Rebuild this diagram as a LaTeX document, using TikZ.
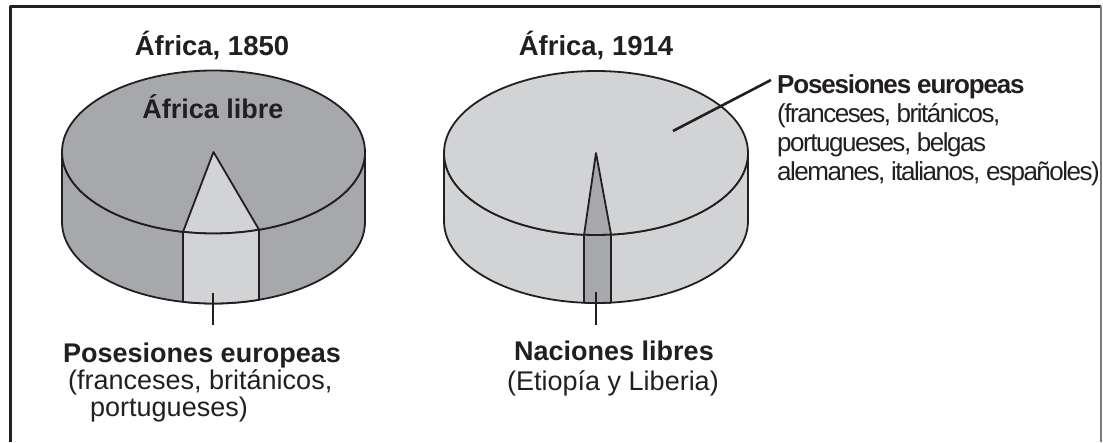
\documentclass[tikz,border=0pt]{standalone}
\usepackage{fontspec}
\setmainfont{Liberation Sans}
\newfontfamily\tightbold{Liberation Sans}[LetterSpace=-4.5]
\newfontfamily\tightreg{Liberation Sans}[LetterSpace=-5.7]
\definecolor{dark}{HTML}{A7A8AC}
\definecolor{light}{HTML}{D2D3D5}
\definecolor{ink}{HTML}{231F20}
\definecolor{framegray}{HTML}{7A7A7A}
% #1 cx, #2 cy, #3 rx, #4 ry, #5 h, #6 t1, #7 t2, #8 body, #9 wedge
\newcommand\drawcylinder[9]{%
  \filldraw[outline, fill=#8] (#1-#3,#2) -- (#1-#3,#2+#5)
    arc[start angle=180,end angle=0,x radius=#3,y radius=#4]
    -- (#1+#3,#2)
    arc[start angle=0,end angle=180,x radius=#3,y radius=#4] -- cycle;
  \filldraw[outline, fill=#8] (#1,#2) ellipse[x radius=#3,y radius=#4];
  \filldraw[outline, fill=#9] (#1,#2) -- ({#1+#3*cos(#6)},{#2+#4*sin(#6)})
    arc[start angle=#6,end angle=#7,x radius=#3,y radius=#4] -- cycle;
  \filldraw[outline, fill=#9] ({#1+#3*cos(#6)},{#2+#4*sin(#6)})
    -- ({#1+#3*cos(#6)},{#2+#5+#4*sin(#6)})
    arc[start angle=#6,end angle=#7,x radius=#3,y radius=#4]
    -- ({#1+#3*cos(#7)},{#2+#4*sin(#7)})
    arc[start angle=#7,end angle=#6,x radius=#3,y radius=#4] -- cycle;
}
\begin{document}
\begin{tikzpicture}[x=1pt,y=-1pt,line join=round,
  outline/.style={draw=ink,line width=1.8pt},
  pointer/.style={draw=ink,line width=2.6pt},
  lbl/.style={inner sep=0pt,text=ink},
  titlefont/.style={font=\bfseries\fontsize{27.5}{30}\selectfont},
  boldfont/.style={font=\bfseries\fontsize{27}{30}\selectfont},
  regfont/.style={font=\fontsize{27}{30}\selectfont},
  rboldfont/.style={font=\tightbold\bfseries\fontsize{26}{30}\selectfont},
  rregfont/.style={font=\tightreg\fontsize{26}{30}\selectfont}]
\useasboundingbox (0,0) rectangle (1103,442);
\fill[white] (0,0) rectangle (1103,442);
% frame
\draw[draw=ink,line width=3pt] (10,442) -- (10,6) -- (1101,6);
\draw[draw=framegray,line width=1.5pt] (1101,6) -- (1101,442);
% cylinders
\drawcylinder{213.5}{152}{151.5}{81.5}{70}{101.6}{72.5}{dark}{light}
\drawcylinder{596}{153}{152}{82}{68}{94.5}{84.3}{light}{dark}
% titles
\node[lbl,titlefont,anchor=base] (t1) at (212,55.5) {África, 1850};
\node[lbl,titlefont,anchor=base] (t2) at (596,55.5) {África, 1914};
\node[lbl,boldfont,anchor=base] (libre) at (213,118) {África libre};
% left label
\node[lbl,boldfont,anchor=base west] (l1a) at (63,362) {Posesiones europeas};
\node[lbl,regfont,anchor=base west] (l1b) at (68,389) {(franceses, británicos,};
\node[lbl,regfont,anchor=base west] (l1c) at (90,416) {portugueses)};
% centre label
\node[lbl,boldfont,anchor=base] (l2a) at (614,360) {Naciones libres};
\node[lbl,regfont,anchor=base] (l2b) at (613,390) {(Etiopía y Liberia)};
% right label
\node[lbl,rboldfont,anchor=base west] (l3a) at (777,93) {Posesiones europeas};
\node[lbl,rregfont,anchor=base west] (l3b) at (777,122) {(franceses, británicos,};
\node[lbl,rregfont,anchor=base west] (l3c) at (777,151) {portugueses, belgas};
\node[lbl,rregfont,anchor=base west] (l3d) at (777,180) {alemanes, italianos, españoles)};
% pointers
\coordinate (p1s) at (213,293);
\coordinate (p1e) at (213,325);
\coordinate (p2s) at (596,292);
\coordinate (p2e) at (596,325);
\coordinate (p3s) at (673,131);
\coordinate (p3e) at (771,80);
\draw[pointer] (p1s) -- (p1e);
\draw[pointer] (p2s) -- (p2e);
\draw[pointer] (p3s) -- (p3e);
\end{tikzpicture}
\end{document}
